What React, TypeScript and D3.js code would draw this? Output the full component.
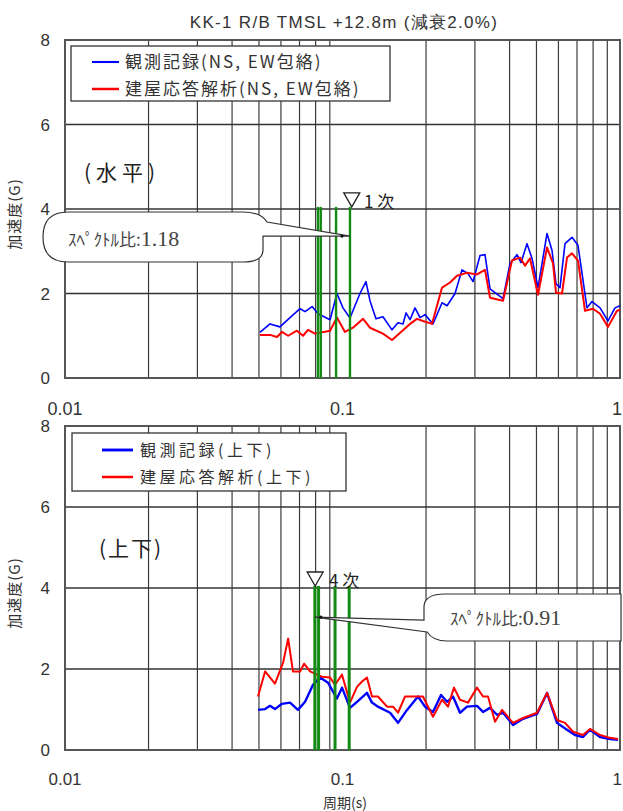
import React from 'react';
import * as d3 from 'd3';

// ---------- data ----------
const title = 'KK-1 R/B TMSL +12.8m (減衰2.0%)';
const xTickValues = [0.01, 0.1, 1];
const xTickLabels = ['0.01', '0.1', '1'];
const yTickValues = [0, 2, 4, 6, 8];
const yGridValues = [2, 4, 6];

// top panel (horizontal, NS/EW envelope)
const topObsT = [0.0504,0.0548,0.0595,0.0647,0.0703,0.0733,0.0777,0.0816,0.0902,0.0955,0.1004,0.1064,0.1156,0.1215,0.1256,0.1320,0.1399,0.1508,0.1585,0.1652,0.1694,0.1751,0.1825,0.1903,0.1983,0.2119,0.2284,0.2381,0.2544,0.2696,0.2834,0.2954,0.3130,0.3262,0.3401,0.3789,0.4016,0.4254,0.4398,0.4623,0.4819,0.5065,0.5458,0.5689,0.5881,0.6079,0.6336,0.6714,0.7057,0.7604,0.7926,0.8474,0.9052,0.9594,1.0];
const topObsV = [1.08,1.28,1.21,1.43,1.64,1.57,1.69,1.52,1.38,2.0,1.66,1.42,2.0,2.28,1.83,1.40,1.45,1.14,1.31,1.28,1.54,1.38,1.66,1.43,1.50,1.28,1.78,1.71,2.0,2.56,2.47,2.28,2.9,2.92,2.11,1.88,2.71,2.92,2.73,3.18,2.83,2.14,3.42,3.02,2.23,2.14,3.18,3.33,3.14,1.66,1.81,1.66,1.35,1.66,1.71];
const topSimT = [0.0504,0.0548,0.0581,0.0605,0.0637,0.0685,0.0721,0.0751,0.0796,0.0902,0.0955,0.1021,0.1091,0.1186,0.1256,0.1399,0.1508,0.1751,0.1856,0.1950,0.2101,0.2284,0.2440,0.2586,0.2810,0.3053,0.3262,0.3401,0.3789,0.4081,0.4362,0.4548,0.4740,0.5065,0.5458,0.5736,0.5881,0.6180,0.6442,0.6714,0.7057,0.7480,0.7992,0.8474,0.9052,0.9754,1.0];
const topSimV = [1.02,1.02,0.97,1.09,1.0,1.12,1.0,1.14,1.05,1.12,1.43,1.09,1.19,1.40,1.19,1.05,0.90,1.28,1.40,1.35,1.28,2.14,2.26,2.42,2.49,2.45,2.56,1.90,1.83,2.78,2.85,2.66,2.83,1.97,3.09,2.71,2.02,2.0,2.85,2.95,2.78,1.59,1.64,1.52,1.21,1.59,1.61];
const topModes = [0.0816, 0.0835, 0.0948, 0.1064];

// bottom panel (vertical)
const botObsT = [0.0496,0.0526,0.0548,0.0571,0.0605,0.0647,0.0691,0.0733,0.0783,0.0830,0.0887,0.0955,0.0996,0.1064,0.1128,0.1225,0.1277,0.1342,0.1484,0.1585,0.1708,0.1871,0.1983,0.2119,0.2265,0.2381,0.2502,0.2651,0.2810,0.3053,0.3209,0.3401,0.3605,0.3789,0.4116,0.4473,0.5024,0.5458,0.5930,0.6442,0.6883,0.7356,0.7796,0.8474,0.9204,0.9835];
const botObsV = [0.99,1.01,1.09,1.01,1.14,1.17,0.99,1.19,1.61,1.79,1.66,1.27,1.54,1.04,1.19,1.41,1.17,1.07,0.92,0.67,0.99,1.32,1.07,0.94,1.36,1.19,1.32,0.92,1.07,1.09,0.94,1.04,0.87,0.92,0.62,0.77,0.89,1.41,0.67,0.50,0.37,0.32,0.50,0.32,0.27,0.25];
const botSimT = [0.0496,0.0526,0.0571,0.0611,0.0637,0.0663,0.0703,0.0727,0.0764,0.0809,0.0844,0.0902,0.0940,0.0996,0.1064,0.1128,0.1176,0.1225,0.1277,0.1342,0.1447,0.1521,0.1585,0.1680,0.1856,0.1950,0.2119,0.2284,0.2400,0.2522,0.2651,0.2834,0.3053,0.3209,0.3345,0.3545,0.3757,0.4116,0.4473,0.5024,0.5458,0.5930,0.6336,0.6770,0.7356,0.7796,0.8474,0.9204,0.9835];
const botSimV = [1.32,1.94,1.64,2.16,2.75,1.94,1.94,2.13,1.94,1.86,1.81,1.79,1.61,1.86,1.17,1.56,1.69,1.79,1.32,1.32,1.07,1.07,0.92,1.32,1.32,1.32,0.82,1.24,1.07,1.54,1.24,1.17,1.54,1.32,1.32,0.70,0.99,0.67,0.79,0.92,1.41,0.74,0.67,0.45,0.37,0.52,0.37,0.30,0.27];
const botModes = [0.0795, 0.0820, 0.0940, 0.1057];

const topLegend = ['観測記録(NS, EW包絡)', '建屋応答解析(NS, EW包絡)'];
const botLegend = ['観測記録(上下)', '建屋応答解析(上下)'];

// ---------- layout ----------
const W = 623, H = 811;
const X0 = 65, X1 = 620;
const MODE_TOP = 4.05;

const SANS = '"Liberation Sans", Arial, sans-serif';
const JP = '"Noto Sans CJK JP", sans-serif';
const SERIF = '"Liberation Serif", "DejaVu Serif", serif';

const x = d3.scaleLog().domain([0.01, 1]).range([X0, X1]);
const gridX: number[] = [];
[0.01, 0.1].forEach(d => { for (let k = 2; k <= 9; k++) gridX.push(k * d); });

interface PanelProps {
  top: number; bottom: number;
  obsT: number[]; obsV: number[]; simT: number[]; simV: number[];
  modes: number[]; modeWidth: number;
  legend: string[]; legendBox: [number, number, number, number];
  legendFont: number; legendLetter: number;
  lineSample: [number, number]; legendRows: [number, number]; legendTextX: number;
  obsWidth: number; simWidth: number;
  tag: string; tagPos: [number, number]; tagLetter: number;
  tri: { t: number; label: string; lx: number };
  ratio: string; callout: 'left' | 'right';
  tipV: number;
  xLabelY: number; xLabelSize: number;
}

function Panel(p: PanelProps) {
  const y = d3.scaleLinear().domain([0, 8]).range([p.bottom, p.top]);
  const line = d3.line<[number, number]>().x(d => x(d[0])).y(d => y(d[1]));
  const obs = p.obsT.map((t, i) => [t, p.obsV[i]] as [number, number]);
  const sim = p.simT.map((t, i) => [t, p.simV[i]] as [number, number]);
  const [lx, ly, lw, lh] = p.legendBox;
  const modeTopY = y(MODE_TOP);
  const triX = x(p.tri.t);

  let calloutPath = '';
  let tipX = 0;
  const tipY = y(p.tipV);
  let textX = 0, textY = 0;
  if (p.callout === 'left') {
    tipX = x(p.modes[p.modes.length - 1]);
    const l = 43, r = 263, t = 212, b = 262;
    calloutPath = `M ${l + 25},${t} H ${r - 20} Q ${r - 2},${t} ${r + 4},${t + 10} L ${tipX},${tipY} L ${r},${tipY} V ${b - 12} Q ${r},${b} ${r - 20},${b} H ${l + 25} Q ${l},${b} ${l},${(t + b) / 2} Q ${l},${t} ${l + 25},${t} Z`;
    textX = 68; textY = 246;
  } else {
    tipX = x(p.modes[0]);
    const l = 425, r = 621, t = 594, b = 641;
    calloutPath = `M ${l + 20},${t} H ${r} V ${b} H ${l + 22} Q ${l + 8},${b} ${l + 2},${b - 9} L ${tipX},${tipY} L ${l - 1},${tipY + 3} V ${t + 12} Q ${l},${t} ${l + 20},${t} Z`;
    textX = 450; textY = 625;
  }

  return (
    <g>
      {/* vertical grid */}
      {gridX.map((g, i) => (
        <line key={'gx' + i} x1={x(g)} x2={x(g)} y1={p.top} y2={p.bottom} stroke="#3c3c3c" strokeWidth={1.2} />
      ))}
      {/* horizontal grid */}
      {yGridValues.map((v, i) => (
        <line key={'gy' + i} x1={X0} x2={X1} y1={y(v)} y2={y(v)} stroke="#333" strokeWidth={1.3} />
      ))}
      {/* frame */}
      <rect x={X0} y={p.top} width={X1 - X0} height={p.bottom - p.top} fill="none" stroke="#555" strokeWidth={2} />

      {/* curves */}
      <path d={line(obs) || ''} fill="none" stroke="#0000ff" strokeWidth={p.obsWidth} strokeLinejoin="round" />
      <path d={line(sim) || ''} fill="none" stroke="#ff0000" strokeWidth={p.simWidth} strokeLinejoin="round" />

      {/* mode lines */}
      {p.modes.map((m, i) => (
        <line key={'m' + i} x1={x(m)} x2={x(m)} y1={p.bottom} y2={modeTopY} stroke="#138a13" strokeWidth={p.modeWidth} />
      ))}

      {/* triangle marker */}
      <path d={`M ${triX - 8},${modeTopY - 14} L ${triX + 8},${modeTopY - 14} L ${triX},${modeTopY} Z`} fill="white" stroke="#222" strokeWidth={1.3} />
      <text x={p.tri.lx} y={modeTopY + 1} fontFamily={JP} fontSize={17} fill="#222">{p.tri.label}</text>

      {/* callout */}
      <path d={calloutPath} fill="white" stroke="#333" strokeWidth={1.2} />
      <circle cx={tipX + (p.callout === 'left' ? -8 : 6)} cy={tipY} r={1.6} fill="#111" />
      <text x={textX} y={textY} fill="#444">
        <tspan fontFamily={JP} fontSize={17}>ｽﾍﾟｸﾄﾙ比:</tspan>
        <tspan fontFamily={SERIF} fontSize={22}>{p.ratio}</tspan>
      </text>

      {/* legend */}
      <rect x={lx} y={ly} width={lw} height={lh} fill="white" stroke="#333" strokeWidth={1.3} />
      {p.legend.map((s, i) => (
        <g key={'lg' + i}>
          <line x1={p.lineSample[0]} x2={p.lineSample[1]} y1={p.legendRows[i]} y2={p.legendRows[i]} stroke={i === 0 ? '#0000ff' : '#ff0000'} strokeWidth={i === 0 ? p.obsWidth + 0.5 : p.simWidth + 0.5} />
          <text x={p.legendTextX} y={p.legendRows[i]} dy="0.36em" fontFamily={JP} fontSize={p.legendFont} letterSpacing={p.legendLetter} fill="#333">{s}</text>
        </g>
      ))}

      {/* tag */}
      <text x={p.tagPos[0]} y={p.tagPos[1]} fontFamily={JP} fontSize={21} letterSpacing={p.tagLetter} fill="#222">{p.tag}</text>

      {/* y tick labels */}
      {yTickValues.map((v, i) => (
        <text key={'yt' + i} x={50} y={y(v)} dy="0.36em" textAnchor="end" fontFamily={SANS} fontSize={17} fill="#333">{v}</text>
      ))}
      {/* x tick labels */}
      {xTickValues.map((v, i) => {
        const last = i === xTickValues.length - 1;
        return (
          <text key={'xt' + i} x={last ? W - 1 : x(v)} y={p.xLabelY} textAnchor={last ? 'end' : 'middle'} fontFamily={SANS} fontSize={p.xLabelSize} fill="#333">{xTickLabels[i]}</text>
        );
      })}
      {/* y axis label */}
      <text transform={`translate(20,${(p.top + p.bottom) / 2 + 5}) rotate(-90)`} textAnchor="middle" fontFamily={JP} fontSize={15} letterSpacing={1} fill="#333">加速度(G)</text>
    </g>
  );
}

export default function App() {
  return (
    <svg width={W} height={H} style={{ position: 'absolute', left: 0, top: 0, background: 'white' }}>
      <rect x={0} y={0} width={W} height={H} fill="white" />
      <text x={344} y={28} textAnchor="middle" fontFamily={SANS} fontSize={17} letterSpacing={1.3} fill="#333">{title}</text>
      <Panel
        top={40} bottom={378}
        obsT={topObsT} obsV={topObsV} simT={topSimT} simV={topSimV}
        modes={topModes} modeWidth={2.4}
        legend={topLegend} legendBox={[71, 46, 319, 55]} legendFont={17} legendLetter={2}
        lineSample={[92, 119]} legendRows={[62, 89]} legendTextX={125}
        obsWidth={1.6} simWidth={2}
        tag="(水平)" tagPos={[84, 180]} tagLetter={5}
        tri={{ t: 0.108, label: '1 次', lx: 364 }}
        ratio="1.18" callout="left" tipV={3.36}
        xLabelY={415} xLabelSize={18}
      />
      <Panel
        top={426} bottom={750}
        obsT={botObsT} obsV={botObsV} simT={botSimT} simV={botSimV}
        modes={botModes} modeWidth={3}
        legend={botLegend} legendBox={[72, 433, 274, 58]} legendFont={16} legendLetter={3.5}
        lineSample={[102, 133]} legendRows={[450, 477]} legendTextX={140}
        obsWidth={2.4} simWidth={2}
        tag="(上下)" tagPos={[99, 556]} tagLetter={2}
        tri={{ t: 0.0797, label: '4 次', lx: 329 }}
        ratio="0.91" callout="right" tipV={3.28}
        xLabelY={785} xLabelSize={17}
      />
      <text x={345} y={808} textAnchor="middle" fontFamily={JP} fontSize={14} fill="#333">周期(s)</text>
    </svg>
  );
}
